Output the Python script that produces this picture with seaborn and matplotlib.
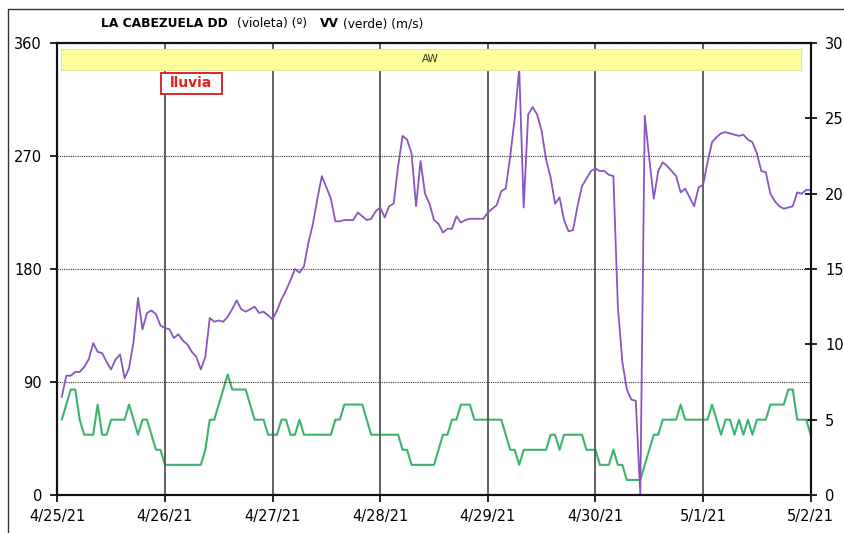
import pandas as pd
import seaborn as sns
import matplotlib.pyplot as plt
from matplotlib.patches import Rectangle
from matplotlib.lines import Line2D

# Datos horarios desde 4/25/21 01:00 hasta 5/2/21 00:00 (24 valores por dia)
# DD: direccion del viento (grados), violeta
dd_violeta = [
    78, 95, 95, 98, 98, 102, 108, 121, 114, 113, 106, 100, 108, 112, 93, 101, 122, 157, 132, 145, 147, 144, 135, 133,
    132, 125, 128, 123, 120, 114, 110, 100, 110, 141, 138, 139, 138, 142, 148, 155, 148, 146, 148, 150, 145, 146, 143, 140,
    147, 156, 163, 171, 180, 177, 182, 201, 216, 236, 254, 245, 236, 218, 218, 219, 219, 219, 225, 222, 219, 220, 226, 229,
    221, 230, 232, 262, 286, 283, 272, 230, 266, 240, 232, 219, 216, 209, 212, 212, 222, 217, 219, 220, 220, 220, 220, 225,
    228, 231, 242, 244, 270, 300, 340, 229, 303, 309, 303, 290, 267, 253, 232, 237, 219, 210, 211, 230, 246, 252, 258, 260,
    258, 258, 255, 254, 150, 106, 84, 76, 75, 0, 302, 268, 236, 258, 265, 262, 258, 254, 241, 244, 237, 230, 245, 247,
    265, 281, 285, 288, 289, 288, 287, 286, 287, 283, 281, 272, 258, 257, 240, 234, 230, 228, 229, 230, 241, 240, 243, 243,
]
# VV: velocidad del viento (m/s), verde
vv_verde = [
    5, 6, 7, 7, 5, 4, 4, 4, 6, 4, 4, 5, 5, 5, 5, 6, 5, 4, 5, 5, 4, 3, 3, 2,
    2, 2, 2, 2, 2, 2, 2, 2, 3, 5, 5, 6, 7, 8, 7, 7, 7, 7, 6, 5, 5, 5, 4, 4,
    4, 5, 5, 4, 4, 5, 4, 4, 4, 4, 4, 4, 4, 5, 5, 6, 6, 6, 6, 6, 5, 4, 4, 4,
    4, 4, 4, 4, 3, 3, 2, 2, 2, 2, 2, 2, 3, 4, 4, 5, 5, 6, 6, 6, 5, 5, 5, 5,
    5, 5, 5, 4, 3, 3, 2, 3, 3, 3, 3, 3, 3, 4, 4, 3, 4, 4, 4, 4, 4, 3, 3, 3,
    2, 2, 2, 3, 2, 2, 1, 1, 1, 1, 2, 3, 4, 4, 5, 5, 5, 5, 6, 5, 5, 5, 5, 5,
    5, 6, 5, 4, 5, 5, 4, 5, 4, 5, 4, 5, 5, 5, 6, 6, 6, 6, 7, 7, 5, 5, 5, 4,
]

dias = ['2021-04-25', '2021-04-26', '2021-04-27', '2021-04-28',
        '2021-04-29', '2021-04-30', '2021-05-01', '2021-05-02']
etiquetas_dias = ['4/25/21', '4/26/21', '4/27/21', '4/28/21',
                  '4/29/21', '4/30/21', '5/1/21', '5/2/21']
ticks_dd = [0, 90, 180, 270, 360]
ticks_vv = [0, 5, 10, 15, 20, 25, 30]

fechas = pd.date_range('2021-04-25 01:00', periods=len(dd_violeta), freq='h')
df = pd.DataFrame({'fecha': fechas, 'dd': dd_violeta, 'vv': vv_verde})
dias_ts = pd.to_datetime(dias)

sns.set_style('white')
plt.rcParams['font.family'] = ['DejaVu Sans']

W, H = 845, 533
fig = plt.figure(figsize=(W / 100, H / 100), dpi=100)
x0, x1, ytop, ybot = 57.3, 810.7, 43, 495
ax = fig.add_axes([x0 / W, 1 - ybot / H, (x1 - x0) / W, (ybot - ytop) / H])
ax2 = ax.twinx()

sns.lineplot(data=df, x='fecha', y='vv', ax=ax2, color='#3cb46e', lw=1.5)
sns.lineplot(data=df, x='fecha', y='dd', ax=ax, color='#8a55c0', lw=1.3)
ax.set_zorder(ax2.get_zorder() + 1)
ax.patch.set_visible(False)

ax.set_xlim(dias_ts[0], dias_ts[-1])
ax.set_ylim(0, 360)
ax2.set_ylim(0, 30)
ax.set_xticks(dias_ts)
ax.set_xticklabels(etiquetas_dias)
ax.set_yticks(ticks_dd)
ax2.set_yticks(ticks_vv)
for a in (ax, ax2):
    a.set_xlabel('')
    a.set_ylabel('')

# rejilla: dias en linea continua, grados en punteado
ax.grid(False)
ax2.grid(False)
ax.xaxis.grid(True, color='#555555', lw=1.3, ls='-')
ax.yaxis.grid(True, color='#333333', lw=0.8, ls=(0, (1, 1)))

for a in (ax, ax2):
    for s in a.spines.values():
        s.set_color('#111111')
        s.set_linewidth(1.5)

ax.tick_params(axis='x', bottom=True, direction='out', length=5, width=1.2,
               pad=5, labelsize=10.5, colors='black')
ax.tick_params(axis='y', left=True, direction='out', length=5, width=1.2,
               pad=6, labelsize=10.5, colors='black')
ax2.tick_params(axis='y', right=True, direction='inout', length=9, width=1.2,
                pad=6, labelsize=10.5, colors='black')

# barra amarilla AW
ax.add_patch(Rectangle((0.005, 0.940), 0.982, 0.047, transform=ax.transAxes,
                       facecolor='#ffff99', edgecolor='#e2e2a8', lw=0.8, zorder=5))
ax.text(0.4955, 0.9635, 'AW', transform=ax.transAxes, ha='center', va='center',
        fontsize=7.5, color='#333333', zorder=6)

# recuadro lluvia
ax.add_patch(Rectangle((0.1372, 0.8872), 0.081, 0.0471, transform=ax.transAxes,
                       facecolor='white', edgecolor='#d42a2a', lw=1.4, zorder=5))
ax.text(0.1777, 0.9106, 'lluvia', transform=ax.transAxes, ha='center', va='center',
        fontsize=10, fontweight='bold', color='#e01f1f', zorder=6)

# titulo en partes
partes = [('LA CABEZUELA DD', 'bold', 100.7),
          ('(violeta) (º)', 'normal', 236.7),
          ('VV', 'bold', 320.0),
          ('(verde) (m/s)', 'normal', 343.3)]
for texto, peso, xp in partes:
    fig.text(xp / W, 1 - 27.4 / H, texto, fontsize=8.8, fontweight=peso,
             ha='left', va='baseline', color='black')

# marco exterior (solo lados izquierdo y superior visibles)
fig.add_artist(Line2D([8.5 / W, 8.5 / W], [0, 1 - 8.5 / H], transform=fig.transFigure,
                      color='#333333', lw=1.0))
fig.add_artist(Line2D([8.5 / W, 1], [1 - 8.5 / H, 1 - 8.5 / H], transform=fig.transFigure,
                      color='#333333', lw=1.0))

fig.savefig('out.png', dpi=100)
